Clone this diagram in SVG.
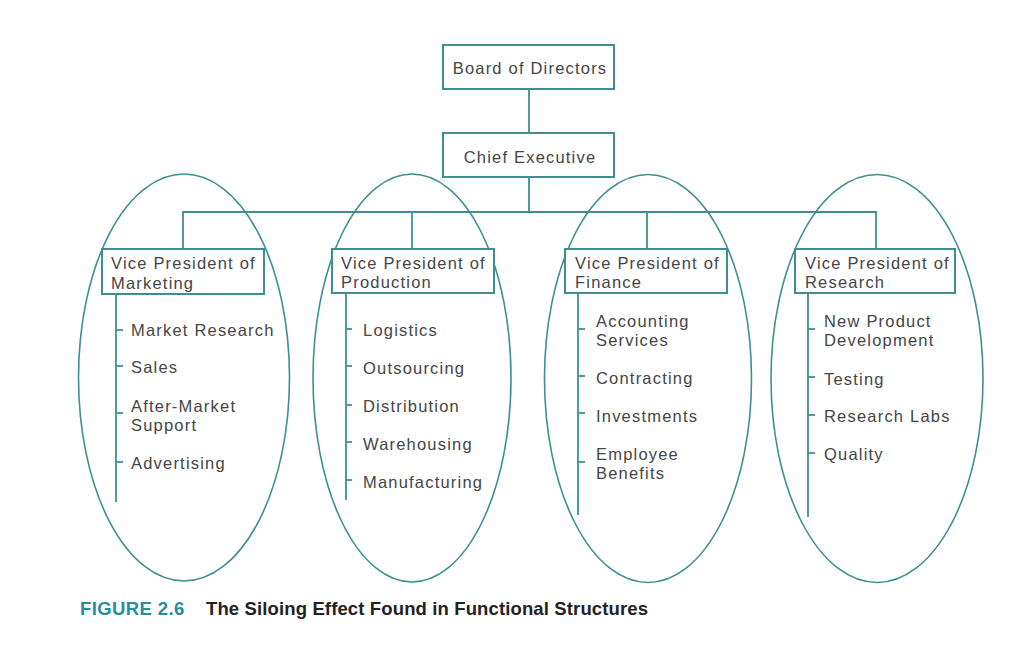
<svg xmlns="http://www.w3.org/2000/svg" width="1020" height="649" viewBox="0 0 1020 649">
<style>
.bg{fill:#ffffff}
.box{fill:#ffffff;stroke:#3f8f92;stroke-width:2}
.ln{fill:none;stroke:#3f8f92;stroke-width:1.8}
.ell{fill:none;stroke:#3f8f92;stroke-width:1.6}
.t{font-family:"Liberation Sans",Arial,sans-serif;font-size:16.5px;letter-spacing:1.2px;fill:#454545}
.ct{text-anchor:middle}
.cap1{font-family:"Liberation Sans",Arial,sans-serif;font-weight:bold;font-size:18.5px;letter-spacing:0.4px;fill:#2b8c9c}
.cap2{font-family:"Liberation Sans",Arial,sans-serif;font-weight:bold;font-size:18.5px;letter-spacing:0.13px;fill:#222222}
</style>
<rect class="bg" x="0" y="0" width="1020" height="649"/>
<g id="connectors">
<line class="ln" x1="529" y1="89" x2="529" y2="133"/>
<line class="ln" x1="529" y1="177" x2="529" y2="212"/>
<polyline class="ln" points="183,249 183,212 876,212 876,249"/>
<line class="ln" x1="412" y1="212" x2="412" y2="249"/>
<line class="ln" x1="647" y1="212" x2="647" y2="249"/>
<!-- marketing -->
<line class="ln" x1="116" y1="294" x2="116" y2="502"/>
<line class="ln" x1="116" y1="330" x2="123" y2="330"/>
<line class="ln" x1="116" y1="366" x2="123" y2="366"/>
<line class="ln" x1="116" y1="413" x2="123" y2="413"/>
<line class="ln" x1="116" y1="462" x2="123" y2="462"/>
<!-- production -->
<line class="ln" x1="346" y1="293" x2="346" y2="500"/>
<line class="ln" x1="346" y1="329" x2="352" y2="329"/>
<line class="ln" x1="346" y1="366" x2="352" y2="366"/>
<line class="ln" x1="346" y1="405" x2="352" y2="405"/>
<line class="ln" x1="346" y1="442" x2="352" y2="442"/>
<line class="ln" x1="346" y1="480" x2="352" y2="480"/>
<!-- finance -->
<line class="ln" x1="578" y1="293" x2="578" y2="515"/>
<line class="ln" x1="578" y1="329" x2="585" y2="329"/>
<line class="ln" x1="578" y1="376" x2="585" y2="376"/>
<line class="ln" x1="578" y1="413" x2="585" y2="413"/>
<line class="ln" x1="578" y1="462" x2="585" y2="462"/>
<!-- research -->
<line class="ln" x1="808" y1="293" x2="808" y2="517"/>
<line class="ln" x1="808" y1="329" x2="815" y2="329"/>
<line class="ln" x1="808" y1="377" x2="815" y2="377"/>
<line class="ln" x1="808" y1="415" x2="815" y2="415"/>
<line class="ln" x1="808" y1="453" x2="815" y2="453"/>
</g>
<g id="board">
<rect class="box" x="443" y="45" width="171" height="44"/>
<text class="t ct" x="530" y="74">Board of Directors</text>
</g>
<g id="ceo">
<rect class="box" x="443" y="133" width="171" height="44"/>
<text class="t ct" x="530" y="163">Chief Executive</text>
</g>
<g id="silo-marketing">
<ellipse class="ell" cx="184" cy="377.5" rx="105.5" ry="203.5"/>
<rect class="box" x="102" y="249" width="162" height="45"/>
<text class="t" x="111" y="269">Vice President of</text>
<text class="t" x="111" y="289">Marketing</text>
<text class="t" x="131" y="336">Market Research</text>
<text class="t" x="131" y="373">Sales</text>
<text class="t" x="131" y="412">After-Market</text>
<text class="t" x="131" y="431">Support</text>
<text class="t" x="131" y="469">Advertising</text>
</g>
<g id="silo-production">
<ellipse class="ell" cx="412" cy="378" rx="99" ry="204"/>
<rect class="box" x="332" y="249" width="162" height="44"/>
<text class="t" x="341" y="269">Vice President of</text>
<text class="t" x="341" y="288">Production</text>
<text class="t" x="363" y="336">Logistics</text>
<text class="t" x="363" y="374">Outsourcing</text>
<text class="t" x="363" y="412">Distribution</text>
<text class="t" x="363" y="450">Warehousing</text>
<text class="t" x="363" y="488">Manufacturing</text>
</g>
<g id="silo-finance">
<ellipse class="ell" cx="648" cy="378.5" rx="103.5" ry="204"/>
<rect class="box" x="565" y="249" width="162" height="44"/>
<text class="t" x="575" y="269">Vice President of</text>
<text class="t" x="575" y="288">Finance</text>
<text class="t" x="596" y="327">Accounting</text>
<text class="t" x="596" y="346">Services</text>
<text class="t" x="596" y="384">Contracting</text>
<text class="t" x="596" y="422">Investments</text>
<text class="t" x="596" y="460">Employee</text>
<text class="t" x="596" y="479">Benefits</text>
</g>
<g id="silo-research">
<ellipse class="ell" cx="877" cy="378.5" rx="106" ry="204"/>
<rect class="box" x="795" y="249" width="160" height="44"/>
<text class="t" x="805" y="269">Vice President of</text>
<text class="t" x="805" y="288">Research</text>
<text class="t" x="824" y="327">New Product</text>
<text class="t" x="824" y="346">Development</text>
<text class="t" x="824" y="385">Testing</text>
<text class="t" x="824" y="422">Research Labs</text>
<text class="t" x="824" y="460">Quality</text>
</g>
<g id="caption">
<text class="cap1" x="80" y="615">FIGURE 2.6</text>
<text class="cap2" x="206" y="615">The Siloing Effect Found in Functional Structures</text>
</g>
</svg>
